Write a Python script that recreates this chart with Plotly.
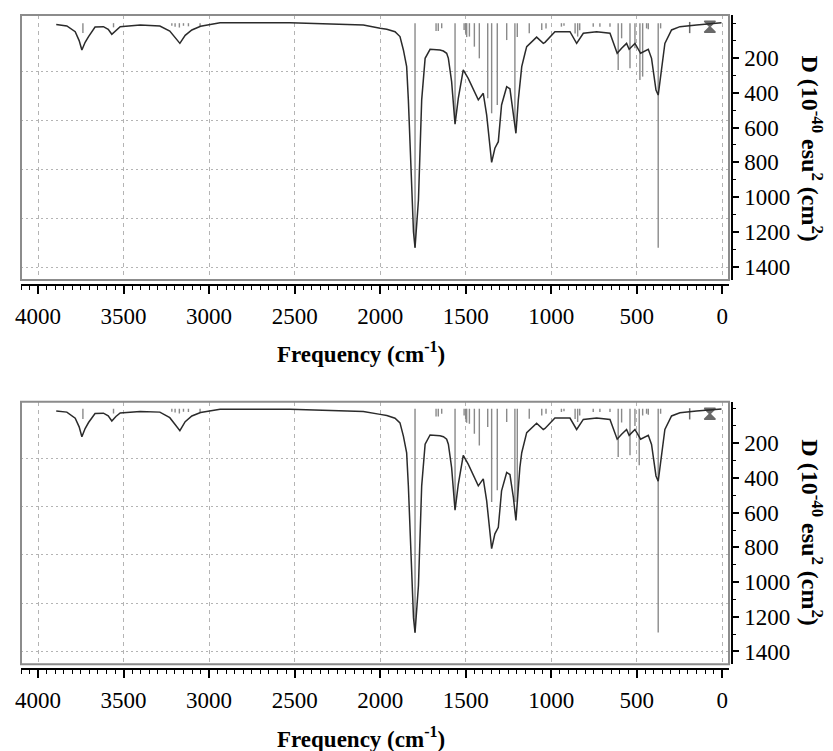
import plotly.graph_objects as go

# ---------------- data ----------------
freq_top = [3894, 3832, 3783, 3760, 3744, 3725, 3705, 3667, 3618, 3590, 3569, 3545, 3520,
            3403, 3288, 3230, 3200, 3171, 3140, 3101, 3050, 2994, 2936, 2527, 2300, 2098,
            2000, 1961, 1913, 1884, 1864, 1845, 1835, 1828, 1815, 1805, 1796, 1786, 1776,
            1757, 1737, 1708, 1650, 1630, 1611, 1601, 1582, 1562, 1543, 1514, 1485, 1426,
            1397, 1377, 1348, 1329, 1309, 1290, 1260, 1241, 1221, 1206, 1192, 1183, 1172,
            1153, 1143, 1085, 1046, 1036, 1007, 978, 890, 851, 812, 734, 656, 614, 588, 559,
            544, 510, 477, 432, 413, 387, 374, 360, 335, 296, 247, 150, 53, 4]
d_top = [7, 16, 49, 100, 154, 110, 77, 22, 20, 35, 64, 40, 20,
         10, 16, 45, 80, 116, 70, 39, 18, 7, -3, -3, 5, 10,
         29, 35, 49, 77, 154, 250, 441, 632, 1016, 1200, 1290, 1150, 1016,
         441, 202, 150, 154, 160, 173, 202, 336, 580, 432, 269, 317, 441,
         403, 528, 800, 719, 681, 470, 365, 377, 509, 633, 441, 336, 250,
         173, 135, 80, 116, 110, 80, 49, 49, 116, 58, 49, 58, 173, 144, 116,
         150, 116, 173, 150, 202, 384, 413, 307, 116, 39, 20, 10, 1, -3]

stick_f_top = [3738, 3559, 3218, 3199, 3174, 3150, 3121, 3053,
               1796, 1673, 1660, 1640, 1562, 1509, 1500, 1494, 1478, 1449, 1420, 1371,
               1348, 1315, 1260, 1212, 1198, 1128, 1055, 1030, 940, 925, 860, 845, 833,
               754, 715, 656, 608, 588, 539, 510, 481, 465, 442, 432, 374, 360]
stick_d_top = [56, 24, 15, 20, 25, 15, 18, 20,
               1290, 45, 45, 29, 566, 39, 60, 80, 77, 135, 202, 432,
               518, 470, 97, 585, 80, 58, 39, 30, 20, 15, 60, 77, 40,
               20, 20, 20, 269, 87, 259, 144, 326, 307, 30, 35, 1290, 30]

freq_bot = list(freq_top)
d_bot = [14, 20, 55, 105, 162, 115, 80, 28, 26, 42, 71, 45, 25,
         16, 20, 52, 90, 127, 75, 42, 22, 12, 4, 4, 10, 16,
         33, 40, 55, 82, 158, 255, 445, 640, 1020, 1205, 1292, 1155, 1020,
         445, 205, 152, 156, 162, 176, 205, 340, 586, 436, 269, 320, 445,
         405, 532, 807, 722, 684, 474, 368, 380, 512, 644, 445, 340, 254,
         176, 138, 84, 120, 114, 84, 54, 54, 120, 62, 54, 62, 176, 148, 120,
         154, 120, 176, 154, 206, 388, 418, 310, 120, 42, 24, 14, 6, 2]

stick_f_bot = [3738, 3559, 3218, 3199, 3174, 3150, 3121, 3053,
               1796, 1673, 1660, 1640, 1562, 1509, 1500, 1494, 1478, 1449, 1420, 1371,
               1348, 1315, 1260, 1212, 1198, 1128, 1055, 1030, 940, 925, 860, 845, 833,
               754, 715, 656, 608, 588, 539, 510, 485, 465, 442, 432, 374, 360]
stick_d_bot = [60, 28, 18, 22, 28, 18, 20, 22,
               1290, 45, 45, 30, 577, 40, 60, 82, 87, 145, 212, 106,
               538, 470, 77, 538, 538, 58, 40, 30, 20, 15, 60, 77, 40,
               20, 20, 20, 279, 80, 269, 100, 327, 40, 30, 35, 1290, 30]

marker_f = [190, 72]
marker_d_top = [25, 20]
marker_d_bot = [30, 30]
marker_sym = ["line-ns", "hourglass"]

x_tick_vals = [4000, 3500, 3000, 2500, 2000, 1500, 1000, 500, 0]
x_tick_text = ["4000", "3500", "3000", "2500", "2000", "1500", "1000", "500", "0"]
y_tick_vals = [200, 400, 600, 800, 1000, 1200, 1400]
y_tick_text = ["200", "400", "600", "800", "1000", "1200", "1400"]
grid_t_vals = [0, 20, 40, 60, 80]

x_title = "<b>Frequency (cm<sup>-1</sup>)</b>"
y_title = "<b>D (10<sup>-40</sup> esu<sup>2</sup> (cm<sup>2</sup>)</b>"

# ---------------- figure ----------------
FONT = "Liberation Serif, Times New Roman, serif"
LINE_C = "#2b2b2b"
STICK_C = "#8a8a8a"
GRID_C = "#b4b4b4"


def stick_xy(f, d):
    xs, ys = [], []
    for a, b in zip(f, d):
        xs += [a, a, None]
        ys += [0, b, None]
    return xs, ys


fig = go.Figure()

panels = [
    dict(xa="x", ya="y", xt="x3", yt="y3", f=freq_top, d=d_top, sf=stick_f_top,
         sd=stick_d_top, md=marker_d_top),
    dict(xa="x2", ya="y2", xt="x4", yt="y4", f=freq_bot, d=d_bot, sf=stick_f_bot,
         sd=stick_d_bot, md=marker_d_bot),
]

for p in panels:
    sx, sy = stick_xy(p["sf"], p["sd"])
    fig.add_trace(go.Scatter(x=sx, y=sy, mode="lines", xaxis=p["xa"], yaxis=p["ya"],
                             line=dict(color=STICK_C, width=1.4), hoverinfo="skip",
                             showlegend=False))
    fig.add_trace(go.Scatter(x=p["f"], y=p["d"], mode="lines", xaxis=p["xa"], yaxis=p["ya"],
                             line=dict(color=LINE_C, width=1.5), showlegend=False))
    fig.add_trace(go.Scatter(x=marker_f, y=p["md"], mode="markers", xaxis=p["xa"],
                             yaxis=p["ya"],
                             marker=dict(symbol=marker_sym, size=[8, 11], color=LINE_C,
                                         line=dict(color=LINE_C, width=1.5)),
                             showlegend=False))
    # helpers so the overlay axes are drawn
    fig.add_trace(go.Scatter(x=[x_tick_vals[0]], y=[y_tick_vals[0]], mode="markers",
                             xaxis=p["xt"], yaxis=p["ya"], marker=dict(opacity=0),
                             hoverinfo="skip", showlegend=False))
    fig.add_trace(go.Scatter(x=[x_tick_vals[0]], y=[grid_t_vals[0]], mode="markers",
                             xaxis=p["xa"], yaxis=p["yt"], marker=dict(opacity=0),
                             hoverinfo="skip", showlegend=False))

W, H = 833, 751
XDOM = [0, 0.9958]
TOP_DOM = [0.5948, 1.0]
BOT_DOM = [0.0072, 0.4087]
XRANGE = [4100, -40]

tickfont = dict(family=FONT, size=23, color="black")

data_x = dict(domain=XDOM, range=XRANGE, showgrid=True, gridcolor=GRID_C, gridwidth=1,
              griddash="4px,4px", tickmode="array", tickvals=x_tick_vals,
              showticklabels=False, ticks="", zeroline=False, showline=False)
tick_x = dict(domain=XDOM, range=XRANGE, showgrid=False, zeroline=False, showline=True,
              linecolor="black", linewidth=1.5, tickmode="array", tickvals=x_tick_vals,
              ticktext=x_tick_text, ticks="outside", ticklen=8, tickwidth=1.5,
              tickcolor="black", tickfont=tickfont, ticklabelstandoff=3,
              minor=dict(ticks="outside", ticklen=4, tickwidth=1.2, tickcolor="black",
                         dtick=50, tick0=0, showgrid=False))
d_y = dict(side="right", anchor="free", position=1.0, showgrid=False, zeroline=False,
           showline=True, linecolor="black", linewidth=1.5, tickmode="array",
           tickvals=y_tick_vals, ticktext=y_tick_text, ticks="outside", ticklen=6,
           tickwidth=1.5, tickcolor="black", tickfont=tickfont, ticklabelstandoff=1,
           minor=dict(ticks="outside", ticklen=3, tickwidth=1.2, tickcolor="black",
                      dtick=100, tick0=0, showgrid=False))
t_y = dict(side="left", showgrid=True, gridcolor=GRID_C, gridwidth=1.2, griddash="2px,3px",
           tickmode="array", tickvals=grid_t_vals, showticklabels=False, ticks="",
           zeroline=False, showline=False, range=[-5.2, 103.3])

fig.update_layout(
    width=W, height=H,
    margin=dict(l=21, r=101, t=15, b=82),
    paper_bgcolor="white", plot_bgcolor="white",
    font=dict(family=FONT, color="black"),
    showlegend=False,
    xaxis=dict(**data_x, anchor="y"),
    xaxis2=dict(**data_x, anchor="y2"),
    xaxis3=dict(**tick_x, overlaying="x", anchor="free", position=0.5872),
    xaxis4=dict(**tick_x, overlaying="x2", anchor="free", position=0.0),
    yaxis=dict(**d_y, domain=TOP_DOM, range=[1476, -47]),
    yaxis2=dict(**d_y, domain=BOT_DOM, range=[1474, -40]),
    yaxis3=dict(**t_y, overlaying="y", anchor="x"),
    yaxis4=dict(**t_y, overlaying="y2", anchor="x2"),
)

for xr, yr in [("x domain", "y domain"), ("x2 domain", "y2 domain")]:
    fig.add_shape(type="rect", xref=xr, yref=yr, x0=0, x1=1, y0=0, y1=1,
                  line=dict(color="#8c8c8c", width=2), layer="above")

x_title_font = dict(family=FONT, size=23, color="black")
y_title_font = dict(family=FONT, size=24, color="black")
for ty in [0.4832, -0.104]:
    fig.add_annotation(text=x_title, xref="paper", yref="paper", x=0.478, y=ty,
                       xanchor="center", yanchor="middle", showarrow=False,
                       font=x_title_font)
for ty in [0.7966, 0.2095]:
    fig.add_annotation(text=y_title, xref="paper", yref="paper", x=1.112, y=ty,
                       xanchor="center", yanchor="middle", showarrow=False, textangle=90,
                       font=y_title_font)

fig.write_html("out.html",
               config={"displayModeBar": False},
               post_script="document.body.style.margin='0';"
                           "document.body.style.overflow='hidden';")
